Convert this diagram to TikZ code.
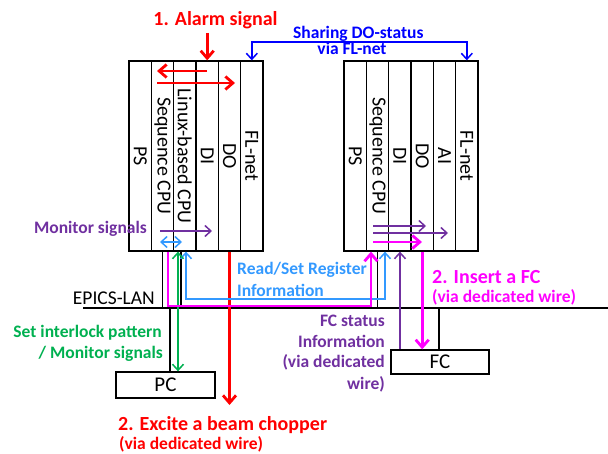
\documentclass[tikz,border=0pt]{standalone}
\usepackage{fontspec}
\setmainfont{Carlito}
\usetikzlibrary{arrows.meta}
\definecolor{cred}{RGB}{255,0,0}
\definecolor{cblue}{RGB}{0,0,255}
\definecolor{cpurple}{RGB}{112,48,160}
\definecolor{clblue}{RGB}{51,153,255}
\definecolor{cgreen}{RGB}{0,176,80}
\definecolor{cmag}{RGB}{255,0,255}
\begin{document}
\begin{tikzpicture}[x=1pt,y=-1pt,
  slot/.style={draw, line width=1.3pt, rotate=-90, minimum width=190pt, minimum height=22.33pt, inner sep=0pt, font=\fontsize{20}{24}\selectfont},
  box/.style={draw, line width=1.3pt, inner sep=0pt, font=\fontsize{21}{24}\selectfont},
  thickarr/.style={line width=2.8pt, -{Straight Barb[length=7.5pt,width=13pt]}},
  thinarr/.style={line width=1.5pt, -{Straight Barb[length=6pt,width=11pt]}},
  thinboth/.style={line width=1.5pt, {Straight Barb[length=6pt,width=11pt]}-{Straight Barb[length=6pt,width=11pt]}},
  wire/.style={line width=1.3pt},
  lbl/.style={font=\bfseries\fontsize{17.5}{21}\selectfont, inner sep=0pt},
  biglbl/.style={font=\bfseries\fontsize{20}{24}\selectfont, inner sep=0pt},
  plain/.style={font=\fontsize{19.5}{23}\selectfont, inner sep=0pt}]

\useasboundingbox (0,0) rectangle (608,454);

% ---- left rack
\node[slot] (L1) at (140.2,156) {PS};
\node[slot] (L2) at (162.5,156) {Sequence CPU};
\node[slot] (L3) at (184.8,156) {Linux-based CPU};
\node[slot] (L4) at (207.2,156) {DI};
\node[slot] (L5) at (229.5,156) {DO};
\node[slot] (L6) at (251.8,156) {FL-net};
% ---- right rack
\node[slot] (R1) at (355.2,156) {PS};
\node[slot] (R2) at (377.5,156) {Sequence CPU};
\node[slot] (R3) at (399.8,156) {DI};
\node[slot] (R4) at (422.2,156) {DO};
\node[slot] (R5) at (444.5,156) {AI};
\node[slot] (R6) at (466.8,156) {FL-net};

% ---- boxes
\node[box, minimum width=99pt, minimum height=26pt] (PC) at (165.5,385) {PC};
\node[box, minimum width=98pt, minimum height=24pt] (FC) at (440,362) {FC};

% ---- coordinates
\coordinate (lanL) at (83,308);
\coordinate (lanR) at (608,308);
\coordinate (alarmS) at (207.2,33);
\coordinate (blueY) at (0,42);
\coordinate (chopE) at (229.5,405);
\coordinate (ra1s) at (207,71);  \coordinate (ra1e) at (157,71);
\coordinate (ra2s) at (157,83);  \coordinate (ra2e) at (235,83);
\coordinate (pl1s) at (160,231); \coordinate (pl1e) at (212,231);
\coordinate (lb1s) at (160,242); \coordinate (lb1e) at (182,242);
\coordinate (pr1s) at (373,226); \coordinate (pr1e) at (426,226);
\coordinate (pr2s) at (373,233); \coordinate (pr2e) at (448,233);
\coordinate (mr1s) at (373,242); \coordinate (mr1e) at (422,242);
\coordinate (xmagL) at (168,0);  \coordinate (xmagR) at (371,0); \coordinate (ymag) at (0,306);
\coordinate (xgrn) at (178,0);
\coordinate (xblk) at (181,0);
\coordinate (xlbL) at (186,0);  \coordinate (xlbR) at (385,0); \coordinate (ylb) at (0,299);
\coordinate (xpc) at (170,0);
\coordinate (xfc) at (439,0);
\coordinate (xpur) at (400,0);

% ---- black wiring
\draw[wire] (lanL) -- (lanR);
\draw[wire] (L2.east) -- (L2.east |- lanL);
\draw[wire] (L3.east -| xblk) -- (lanL -| xblk);
\draw[wire] (lanL -| xpc) -- (PC.north -| xpc);
\draw[wire] (R2.east) -- (R2.east |- lanL);
\draw[wire] (lanL -| xfc) -- (FC.north -| xfc);

% ---- red
\draw[cred, thickarr] (alarmS) -- (L4.west);
\draw[cred, thickarr] (ra1s) -- (ra1e);
\draw[cred, thickarr] (ra2s) -- (ra2e);
\draw[cred, thickarr] (L5.east) -- (chopE);

% ---- blue (FL-net)
\draw[cblue, thinboth] (L6.west) -- (L6.west |- blueY) -- (R6.west |- blueY) -- (R6.west);

% ---- purple
\draw[cpurple, thinarr] (pl1s) -- (pl1e);
\draw[cpurple, thinarr] (pr1s) -- (pr1e);
\draw[cpurple, thinarr] (pr2s) -- (pr2e);
\draw[cpurple, thinarr] (FC.north -| xpur) -- (R3.east -| xpur);

% ---- light blue
\draw[clblue, thinboth] (lb1s) -- (lb1e);
\draw[clblue, thinboth] (L3.east -| xlbL) -- (ylb -| xlbL) -- (ylb -| xlbR) -- (R3.east -| xlbR);

% ---- green
\draw[cgreen, thinboth] (L3.east -| xgrn) -- (PC.north -| xgrn);

% ---- magenta
\draw[cmag, thickarr] (L2.east -| xmagL) -- (ymag -| xmagL) -- (ymag -| xmagR) -- (R2.east -| xmagR);
\draw[cmag, thickarr] (mr1s) -- (mr1e);
\draw[cmag, thickarr] (R4.east) -- (FC.north -| R4.east);

% ---- texts
\node[biglbl, text=cred, anchor=base] (tAlarm) at (215.5,26) {1. Alarm signal};
\node[lbl, text=cblue, anchor=base west] (tShare1) at (293,38.5) {Sharing DO-status};
\node[lbl, text=cblue, anchor=base] (tShare2) at (352,54.5) {via FL-net};
\node[lbl, text=cpurple, anchor=base east] (tMon) at (147,233.5) {Monitor signals};
\node[lbl, text=clblue, anchor=base west] (tRS1) at (237,274.5) {Read/Set Register};
\node[lbl, text=clblue, anchor=base west] (tRS2) at (237,296.5) {Information};
\node[lbl, text=cgreen, anchor=base east] (tSet1) at (162,337.5) {Set interlock pattern};
\node[lbl, text=cgreen, anchor=base east] (tSet2) at (163,358.5) {/ Monitor signals};
\node[plain, anchor=base east] (tLan) at (155,305) {EPICS-LAN};
\node[biglbl, text=cmag, anchor=base west] (tIns1) at (432,284) {2. Insert a FC};
\node[lbl, text=cmag, anchor=base west] (tIns2) at (432,303) {(via dedicated wire)};
\node[lbl, text=cpurple, anchor=base east] (tFC1) at (385,327) {FC status};
\node[lbl, text=cpurple, anchor=base east] (tFC2) at (385,348) {Information};
\node[lbl, text=cpurple, anchor=base east] (tFC3) at (385,368) {(via dedicated};
\node[lbl, text=cpurple, anchor=base east] (tFC4) at (385,389) {wire)};
\node[biglbl, text=cred, anchor=base west] (tExc1) at (118,430) {2. Excite a beam chopper};
\node[lbl, text=cred, anchor=base west] (tExc2) at (119,449) {(via dedicated wire)};
\end{tikzpicture}
\end{document}
